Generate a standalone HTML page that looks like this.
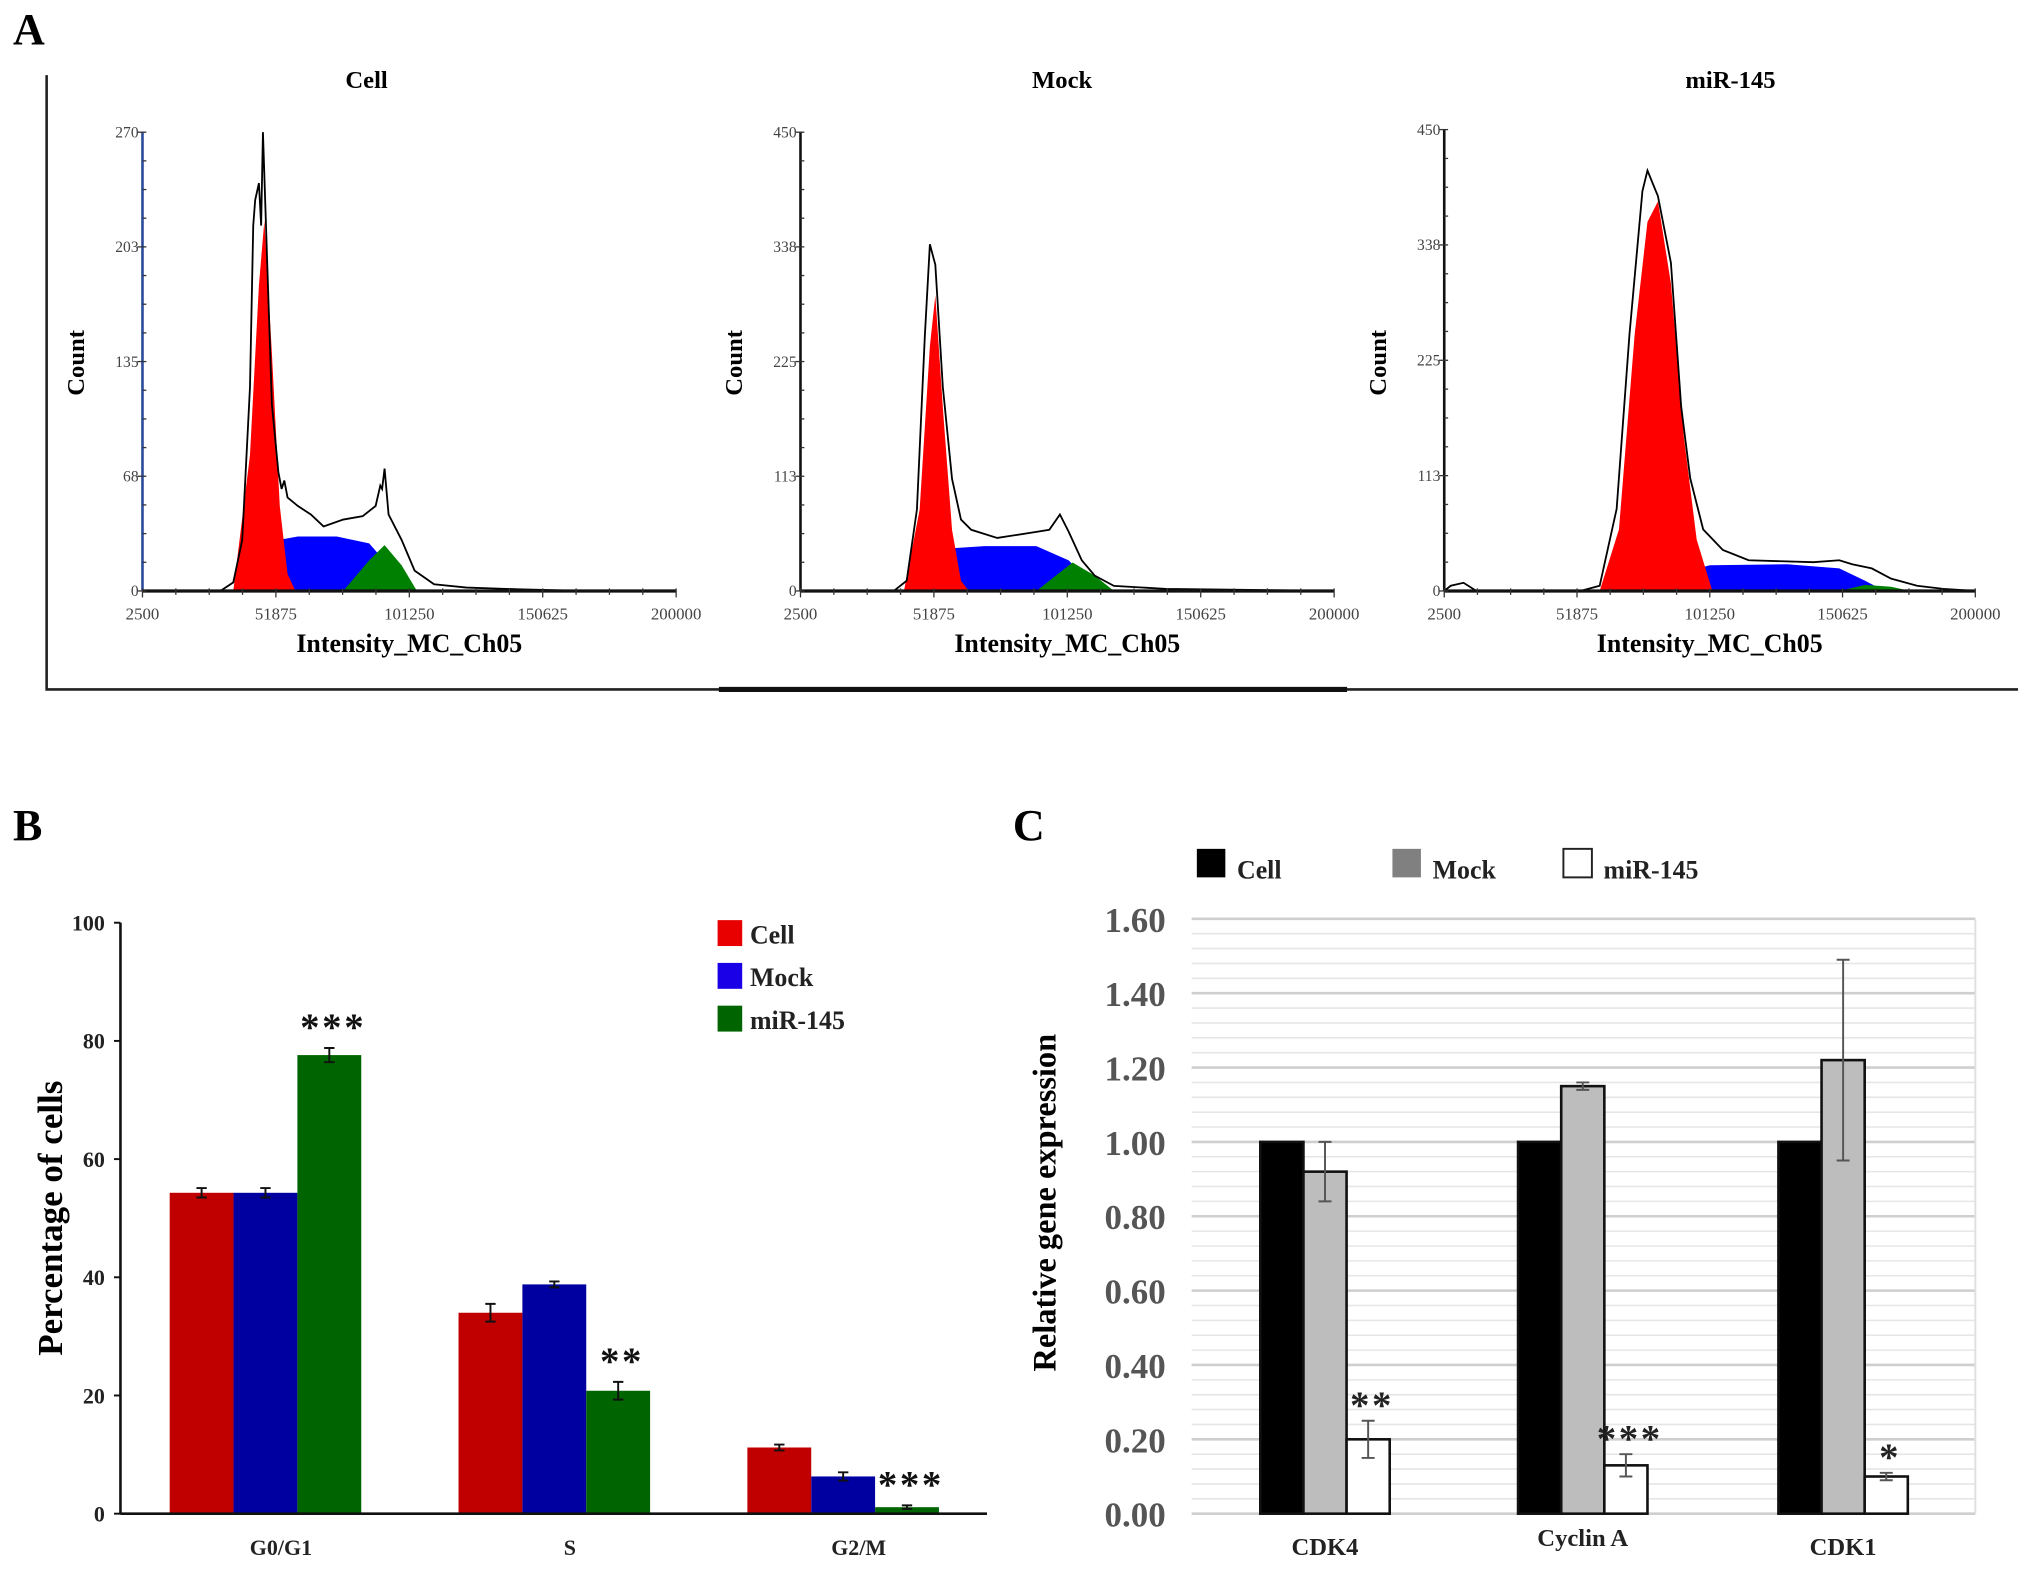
<!DOCTYPE html>
<html><head><meta charset="utf-8">
<style>
html,body{margin:0;padding:0;background:#fff;}
svg{display:block;}
text{font-family:"Liberation Serif",serif;font-weight:bold;}
</style></head>
<body>
<svg id="fig" width="2031" height="1572" viewBox="0 0 1568 1213" preserveAspectRatio="none" xmlns="http://www.w3.org/2000/svg">
<rect width="1568" height="1213" fill="#fff"/>
</svg>
<script>
// ---------- Panel A data: [intensity, count] ----------
const histTitles = ["Cell", "Mock", "miR-145"];
const histYMax = [270, 450, 450];
const histYTicks0 = ["0","68","135","203","270"];
const histYTicks1 = ["0","113","225","338","450"];
const histYTicks2 = ["0","113","225","338","450"];
const histXTicks = ["2500","51875","101250","150625","200000"];
const cellRed = [[36100,0],[42300,80],[45600,180],[47600,218],[50400,140],[53300,50],[56200,10],[59100,0]];
const cellBlue = [[40850,0],[45600,12],[52800,30],[60000,32],[74400,32],[86400,28],[93600,15],[100800,0]];
const cellGreen = [[76800,0],[86400,18],[92100,27],[98400,15],[104100,0]];
const cellBlack = [[2500,0],[31300,0],[36100,5],[39400,30],[42300,120],[43500,215],[44200,230],[45600,240],[46400,215],[47100,270],[48500,200],[50400,110],[52800,70],[54000,60],[55000,65],[56200,55],[60000,50],[64800,45],[69500,38],[76800,42],[84000,44],[88800,50],[90500,62],[91200,60],[92100,72],[93600,45],[98400,30],[103200,12],[110400,4],[122400,2],[141500,1],[165500,0],[200000,0]];
const mockRed = [[40800,0],[46600,80],[50400,240],[52400,290],[55200,180],[58600,60],[61900,10],[64800,0]];
const mockBlue = [[41800,0],[49000,20],[58600,42],[70600,44],[89800,44],[101800,30],[108900,10],[113700,0]];
const mockGreen = [[89800,0],[97000,15],[103200,28],[111400,15],[118500,0]];
const mockBlack = [[2500,0],[37000,0],[41800,10],[45600,80],[48500,250],[50400,340],[52400,320],[55200,200],[58600,110],[61900,70],[65700,60],[75300,52],[89800,58],[94600,60],[98500,75],[101800,58],[106600,30],[111400,15],[118500,5],[137700,2],[200000,0]];
const mirRed = [[60300,0],[67500,60],[73300,250],[78100,360],[82000,380],[86800,300],[91600,150],[96400,50],[102200,0]];
const mirBlue = [[74800,0],[86800,15],[101300,25],[130000,26],[149400,22],[159000,10],[166300,0]];
const mirGreen = [[149400,0],[159000,6],[168700,4],[175900,0]];
const mirBlack = [[2500,0],[4900,5],[9700,8],[14500,0],[53100,0],[60300,5],[66600,80],[71400,250],[76200,390],[78100,410],[82000,385],[86800,320],[90600,180],[94000,110],[98800,60],[106100,40],[115700,30],[139800,28],[149400,30],[154200,26],[161500,22],[168700,12],[178300,5],[188100,2],[200000,0]];

// ---------- Panel B data ----------
const phaseCats = ["G0/G1","S","G2/M"];
const phaseCell = [54.3, 34.0, 11.2];
const phaseMock = [54.3, 38.8, 6.3];
const phaseMir = [77.6, 20.8, 1.1];
const phaseCellErr = [0.8, 1.5, 0.5];
const phaseMockErr = [0.8, 0.5, 0.7];
const phaseMirErr = [1.2, 1.5, 0.3];
const phaseStars = ["***","**","***"];
const phaseTicks = ["0","20","40","60","80","100"];

// ---------- Panel C data ----------
const geneCats = ["CDK4","Cyclin A","CDK1"];
const geneCell = [1.0, 1.0, 1.0];
const geneMock = [0.92, 1.15, 1.22];
const geneMir = [0.20, 0.13, 0.10];
const geneMockErr = [0.08, 0.01, 0.27];
const geneMirErr = [0.05, 0.03, 0.01];
const geneStars = ["**","***","*"];
const geneTicks = ["0.00","0.20","0.40","0.60","0.80","1.00","1.20","1.40","1.60"];

const NS = "http://www.w3.org/2000/svg";
const svg = document.getElementById("fig");
function el(tag, attrs, parent, txt){
  const e = document.createElementNS(NS, tag);
  for (const k in attrs) e.setAttribute(k, attrs[k]);
  if (txt !== undefined) e.textContent = txt;
  (parent || svg).appendChild(e);
  return e;
}

// Panel labels
let t;
t = el("text",{x:10,y:34,"font-size":34},svg,"A");


t = el("text",{x:10,y:648,"font-size":34},svg,"B");


t = el("text",{x:782,y:648,"font-size":34},svg,"C");



// Panel A frame
let fr = el("path",{d:"M36,58 L36,532 L1558,532",fill:"none",stroke:"#222","stroke-width":2});


fr = el("line",{x1:555,y1:532,x2:1040,y2:532,stroke:"#111","stroke-width":4});



// ---------- Histograms ----------
const histLayout = [
  {x0:110,x1:522,y0:456,y1:102,tx:283,axis:"#2a4a9a"},
  {x0:618,x1:1030,y0:456,y1:102,tx:820,axis:"#111"},
  {x0:1115,x1:1525,y0:456,y1:100,tx:1336,axis:"#111"}
];
const histSets = [
  [cellRed,cellBlue,cellGreen,cellBlack],
  [mockRed,mockBlue,mockGreen,mockBlack],
  [mirRed,mirBlue,mirGreen,mirBlack]
];
const histYTickSets = [histYTicks0,histYTicks1,histYTicks2];
const XMIN=2500, XMAX=200000;
histLayout.forEach((L,i)=>{
  const g = el("g",{});
  
  
  const sx = v => L.x0 + (v-XMIN)/(XMAX-XMIN)*(L.x1-L.x0);
  const sy = c => L.y0 - c/histYMax[i]*(L.y0-L.y1);
  const [red,blue,green,black] = histSets[i];
  const area = (pts,fill,name)=>{
    let d = "M"+pts.map(p=>sx(p[0]).toFixed(1)+","+sy(p[1]).toFixed(1)).join(" L")+" Z";
    const p = el("path",{d:d,fill:fill,stroke:"none"},g);
    
    
  };
  area(blue,"#0000ff","s-phase-fit");
  area(green,"#008000","g2m-phase-fit");
  area(red,"#ff0000","g1-phase-fit");
  const ln = el("path",{d:"M"+black.map(p=>sx(p[0]).toFixed(1)+","+sy(p[1]).toFixed(1)).join(" L"),fill:"none",stroke:"#000","stroke-width":1.4},g);
  
  
  // axes
  const ya = el("line",{x1:L.x0,y1:L.y1,x2:L.x0,y2:L.y0,stroke:L.axis,"stroke-width":2},g);
  
  
  const xa = el("line",{x1:L.x0,y1:L.y0,x2:L.x1,y2:L.y0,stroke:"#111","stroke-width":2.5},g);
  
  
  const yt = histYTickSets[i];
  for (let k=0;k<=16;k++){
    const y = L.y0 - k/16*(L.y0-L.y1);
    el("line",{x1:L.x0-(k%4==0?4:0),y1:y,x2:L.x0+3,y2:y,stroke:"#333","stroke-width":1},g);
  }
  yt.forEach((lab,k)=>{
    const y = L.y0 - k/(yt.length-1)*(L.y0-L.y1);
    const tt = el("text",{x:L.x0-3,y:y+4,"font-size":12,"font-weight":"normal","text-anchor":"end",fill:"#444",style:"font-weight:normal"},g,lab);
    
    
  });
  for (let k=0;k<=16;k++){
    const x = L.x0 + k/16*(L.x1-L.x0);
    el("line",{x1:x,y1:L.y0-2,x2:x,y2:L.y0+(k%4==0?5:3),stroke:"#333","stroke-width":1},g);
  }
  histXTicks.forEach((lab,k)=>{
    const x = L.x0 + k/(histXTicks.length-1)*(L.x1-L.x0);
    const tt = el("text",{x:x,y:L.y0+22,"font-size":13,"text-anchor":"middle",fill:"#444",style:"font-weight:normal"},g,lab);
    
    
  });
  const ti = el("text",{x:L.tx,y:68,"font-size":19,"text-anchor":"middle"},g,histTitles[i]);
  
  
  const xl = el("text",{x:(L.x0+L.x1)/2,y:503,"font-size":20,"text-anchor":"middle"},g,"Intensity_MC_Ch05");
  
  
  const cx = L.x0-45, cy = 280;
  const yl = el("text",{x:cx,y:cy,"font-size":19,"text-anchor":"middle",transform:"rotate(-90 "+cx+" "+cy+")"},g,"Count");
  
  
});

// ---------- Panel B ----------
(function(){
  const g = el("g",{});
  
  
  const X0=93, X1=762, Y0=1168, Y1=712;
  const sy = v => Y0 - v/100*(Y0-Y1);
  const groupStart = [131,354,577], bw = 49.3;
  const series = [phaseCell,phaseMock,phaseMir];
  const errs = [phaseCellErr,phaseMockErr,phaseMirErr];
  const cols = ["#c00000","#0000a0","#006400"];
  const names = ["cell","mock","mir-145"];
  series.forEach((s,si)=>{
    s.forEach((v,ci)=>{
      const x = groupStart[ci] + si*bw;
      const r = el("rect",{x:x,y:sy(v),width:bw,height:Y0-sy(v),fill:cols[si]},g);
      
      
      const cx = x+bw/2, e = errs[si][ci];
      el("path",{d:`M${cx},${sy(v+e)} L${cx},${sy(v-e)} M${cx-4},${sy(v+e)} L${cx+4},${sy(v+e)} M${cx-4},${sy(v-e)} L${cx+4},${sy(v-e)}`,stroke:"#111","stroke-width":1.5,fill:"none"},g);
      if (si===2){
        const st = el("text",{x:cx+3,y:sy(v+e)-6,"font-size":30,"text-anchor":"middle",fill:"#111",style:"letter-spacing:2px"},g,phaseStars[ci]);
        
        
      }
    });
  });
  el("line",{x1:X0,y1:Y1,x2:X0,y2:Y0,stroke:"#111","stroke-width":2},g);
  el("line",{x1:X0,y1:Y0,x2:X1,y2:Y0,stroke:"#111","stroke-width":2},g);
  phaseTicks.forEach((lab,k)=>{
    const y = sy(k*20);
    el("line",{x1:X0-5,y1:y,x2:X0,y2:y,stroke:"#111","stroke-width":1.5},g);
    const tt = el("text",{x:X0-12,y:y+6,"font-size":17,"text-anchor":"end",fill:"#222"},g,lab);
    
    
  });
  phaseCats.forEach((c,ci)=>{
    const tt = el("text",{x:groupStart[ci]+1.5*bw+12,y:1200,"font-size":17,"text-anchor":"middle",fill:"#222"},g,c);
    
    
  });
  const yl = el("text",{x:48,y:940,"font-size":27,"text-anchor":"middle",transform:"rotate(-90 48 940)"},g,"Percentage of cells");
  
  
  const lcols = ["#e80000","#1a00e6","#006400"];
  const lnames = ["Cell","Mock","miR-145"];
  lnames.forEach((n,i)=>{
    const y = 710 + i*33;
    const lg = el("g",{},g);
    
    
    el("rect",{x:554,y:y,width:19,height:20,fill:lcols[i]},lg);
    el("text",{x:579,y:y+18,"font-size":20,fill:"#222"},lg,n);
  });
})();

// ---------- Panel C ----------
(function(){
  const g = el("g",{});
  
  
  const X0=920, X1=1525, Y0=1168, Y1=709;
  const sy = v => Y0 - v/1.6*(Y0-Y1);
  for (let k=0;k<=40;k++){
    const v = k*0.04, y = sy(v);
    el("line",{x1:X0,y1:y,x2:X1,y2:y,stroke:k%5==0?"#cfcfcf":"#e6e6e6","stroke-width":k%5==0?2:1.2},g);
  }
  el("line",{x1:X1,y1:Y1,x2:X1,y2:Y0,stroke:"#e0e0e0","stroke-width":1.5},g);
  const groupStart = [973,1172,1373], bw = 33.3;
  const series = [geneCell,geneMock,geneMir];
  const cols = ["#000","#bdbdbd","#fff"];
  const names = ["cell","mock","mir-145"];
  series.forEach((s,si)=>{
    s.forEach((v,ci)=>{
      const x = groupStart[ci] + si*bw;
      const r = el("rect",{x:x,y:sy(v),width:bw,height:Y0-sy(v),fill:cols[si],stroke:"#111","stroke-width":2},g);
      
      
      const cx = x+bw/2;
      let e = si===1 ? geneMockErr[ci] : (si===2 ? geneMirErr[ci] : 0);
      if (e>0){
        el("path",{d:`M${cx},${sy(v+e)} L${cx},${sy(v-e)} M${cx-5},${sy(v+e)} L${cx+5},${sy(v+e)} M${cx-5},${sy(v-e)} L${cx+5},${sy(v-e)}`,stroke:"#555","stroke-width":1.5,fill:"none"},g);
      }
      if (si===2){
        const st = el("text",{x:cx+3,y:sy(v+e)-2,"font-size":30,"text-anchor":"middle",fill:"#222",style:"letter-spacing:2px"},g,geneStars[ci]);
        
        
      }
    });
  });
  geneTicks.forEach((lab,k)=>{
    const tt = el("text",{x:900,y:sy(k*0.2)+10,"font-size":27,"text-anchor":"end",fill:"#555"},g,lab);
    
    
  });
  const labY = [1200,1193,1200];
  geneCats.forEach((c,ci)=>{
    const tt = el("text",{x:groupStart[ci]+1.5*bw,y:labY[ci],"font-size":19,"text-anchor":"middle",fill:"#222"},g,c);
    
    
  });
  const yl = el("text",{x:815,y:928,"font-size":25,"text-anchor":"middle",transform:"rotate(-90 815 928)"},g,"Relative gene expression");
  
  
  const lx = [924,1075,1207], lcol = ["#000","#808080","#fff"], ln = ["Cell","Mock","miR-145"];
  ln.forEach((n,i)=>{
    const lg = el("g",{},g);
    
    
    el("rect",{x:lx[i],y:655,width:22,height:22,fill:lcol[i],stroke:i==2?"#222":"none","stroke-width":1.5},lg);
    el("text",{x:lx[i]+31,y:678,"font-size":20,fill:"#222"},lg,n);
  });
})();
</script>
</body></html>
